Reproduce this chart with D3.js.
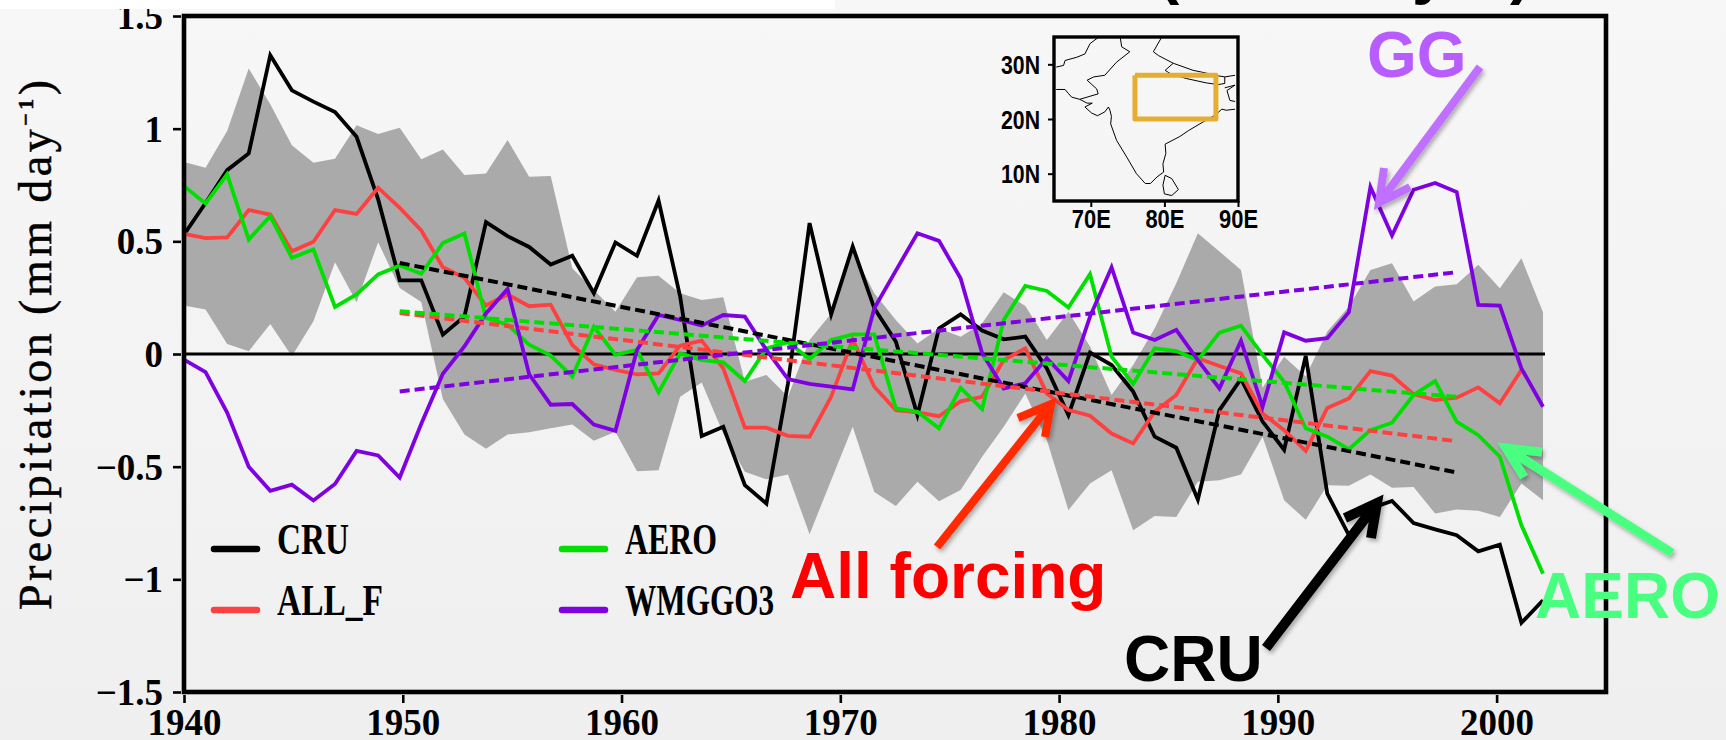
<!DOCTYPE html>
<html>
<head>
<meta charset="utf-8">
<script src="https://cdnjs.cloudflare.com/ajax/libs/d3/7.8.5/d3.min.js"></script>
<style>
  html, body { margin: 0; padding: 0; background: #fff; overflow: hidden; }
  svg { display: block; }
</style>
</head>
<body>
<svg id="chart" width="1726" height="740"></svg>
<script>
'use strict'

const tickYears = [1940, 1950, 1960, 1970, 1980, 1990, 2000]
const tickValues = [1.5, 1, 0.5, 0, -0.5, -1, -1.5]
const tickLabels = ['1.5', '1', '0.5', '0', '\u22120.5', '\u22121', '\u22121.5']

const cru = [0.53, 0.67, 0.816, 0.89, 1.326, 1.17, 1.12, 1.074, 0.964, 0.686, 0.327, 0.327, 0.086, 0.167, 0.585, 0.523,
  0.475, 0.397, 0.436, 0.27, 0.495, 0.436, 0.681, 0.255, -0.364, -0.323, -0.582, -0.664, -0.13, 0.581, 0.176, 0.477,
  0.203, 0.055, -0.271, 0.114, 0.176, 0.104, 0.065, 0.077, -0.064, -0.271, 0.006, -0.049, -0.167, -0.367, -0.416, -0.646,
  -0.249, -0.111, -0.3, -0.425, -0.008, -0.62, -0.804, -0.686, -0.652, -0.75, -0.778, -0.804, -0.876, -0.846, -1.193, -1.093]
const allF = [0.533, 0.514, 0.517, 0.639, 0.619, 0.456, 0.498, 0.639, 0.622, 0.738, 0.649, 0.548, 0.385, 0.338, 0.215, 0.264,
  0.212, 0.219, 0.04, -0.046, -0.071, -0.09, -0.086, 0.037, 0.059, -0.064, -0.327, -0.327, -0.363, -0.367, -0.19, 0.065,
  -0.145, -0.249, -0.259, -0.276, -0.21, -0.19, -0.027, 0.025, -0.175, -0.249, -0.274, -0.353, -0.397, -0.256, -0.182, -0.019,
  -0.053, -0.086, -0.264, -0.338, -0.43, -0.24, -0.197, -0.076, -0.096, -0.178, -0.204, -0.194, -0.148, -0.219, -0.071]
const aero = [0.745, 0.668, 0.797, 0.508, 0.612, 0.427, 0.464, 0.209, 0.264, 0.353, 0.393, 0.356, 0.493, 0.535, 0.16, 0.13,
  0.041, -0.007, -0.1, 0.121, -0.004, 0.018, -0.17, 0.003, -0.027, -0.037, -0.12, 0.025, 0.052, -0.022, 0.062, 0.087,
  0.087, -0.241, -0.256, -0.33, -0.15, -0.244, 0.151, 0.302, 0.28, 0.206, 0.354, -0.012, -0.133, 0.025, 0.013, -0.027,
  0.095, 0.126, -0.004, -0.123, -0.33, -0.367, -0.422, -0.338, -0.305, -0.182, -0.12, -0.3, -0.36, -0.456, -0.76, -0.975]
const wmggo3 = [-0.025, -0.08, -0.26, -0.5, -0.607, -0.58, -0.65, -0.577, -0.43, -0.45, -0.548, -0.31, -0.088, 0.034, 0.18, 0.289,
  -0.09, -0.225, -0.222, -0.313, -0.341, 0.018, 0.173, 0.151, 0.126, 0.173, 0.166, 0.018, -0.111, -0.133, -0.145, -0.157,
  0.203, 0.37, 0.536, 0.502, 0.336, 0.003, -0.153, -0.13, -0.019, -0.12, 0.166, 0.385, 0.095, 0.062, 0.107, -0.027,
  -0.153, 0.059, -0.234, 0.096, 0.059, 0.07, 0.186, 0.741, 0.526, 0.729, 0.759, 0.719, 0.218, 0.215, -0.064, -0.234]

const bandUpper = [0.852, 0.827, 0.99, 1.267, 1.108, 0.926, 0.849, 0.867, 1.015, 0.976, 1.004, 0.864, 0.908, 0.794, 0.801, 0.95,
  0.787, 0.79, 0.381, 0.284, 0.188, 0.341, 0.347, 0.27, 0.24, 0.252, -0.123, -0.093, -0.19, 0.062, 0.18, 0.455,
  0.27, 0.151, 0.047, 0.114, 0.077, 0.136, 0.274, 0.213, 0.062, 0.188, 0.033, -0.182, -0.049, 0.114, 0.314, 0.536,
  0.455, 0.373, -0.15, -0.012, -0.1, 0.1, 0.21, 0.373, 0.403, 0.233, 0.3, 0.31, 0.396, 0.292, 0.425, 0.185]
const bandLower = [0.215, 0.197, 0.044, 0.012, 0.133, -0.01, 0.145, 0.407, 0.23, 0.496, 0.293, 0.231, -0.2, -0.357, -0.42, -0.357,
  -0.347, -0.33, -0.313, -0.385, -0.345, -0.52, -0.516, -0.19, -0.126, -0.353, -0.523, -0.556, -0.535, -0.8, -0.56, -0.323,
  -0.612, -0.674, -0.567, -0.653, -0.604, -0.456, -0.323, -0.175, -0.382, -0.693, -0.575, -0.516, -0.782, -0.719, -0.723, -0.567,
  -0.56, -0.535, -0.367, -0.649, -0.736, -0.583, -0.585, -0.535, -0.594, -0.59, -0.708, -0.69, -0.696, -0.723, -0.575, -0.649]

// first and last step of each fitted trend
const trendSteps = [10, 59]
const cruTrend = [0.404, -0.526]
const allFTrend = [0.182, -0.387]
const aeroTrend = [0.19, -0.19]
const wmggo3Trend = [-0.166, 0.363]

// inset map: lon, lat
const insetLonTicks = [70, 80, 90]
const insetLatTicks = [30, 20, 10]
const indiaCoast = [[65.3, 25.4], [66.5, 25.4], [67, 24.6], [67.4, 24], [68.5, 23.6], [69.5, 22.9], [70.2, 22.9], [69.2, 22.2], [70.1, 21.1], [70.9, 20.6],
  [71.9, 21.3], [72.4, 22.2], [72.6, 21.6], [72.8, 20.5], [72.7, 19.1], [73.5, 16.1], [74.9, 13], [76.2, 10], [77.4, 8.2], [78.1, 8.2], [79, 9.4],
  [79.9, 10.3], [79.8, 11.8], [80.2, 13.7], [80.1, 15.4], [82.1, 16.8], [83.3, 17.9], [85.3, 19.5], [86.9, 20.7], [87.8, 21.8], [88.4, 21.6], [89.6, 21.8]]
const sriLanka = [[80.1, 9.7], [81, 9.1], [81.9, 7.1], [81, 6], [80, 6.3], [79.8, 7.9], [80.1, 9.7]]
const afghanBorder = [[65.3, 29.5], [66.3, 29.8], [66.5, 30.7], [68.1, 31.3], [69.2, 31.9], [69.9, 33.8], [71, 34.9]]
const pakBorder = [[68.5, 23.6], [71, 24.6], [70.8, 25.5], [69.5, 27.1], [70.4, 27.7], [71.9, 28], [73.5, 30.4], [75.3, 32.3], [74.2, 33.2], [74, 34.9]]
const tibetBorder = [[79.6, 34.9], [78.5, 32.3], [79.2, 31.6], [81.2, 30.2], [83.9, 28.9], [85, 28.6], [87.3, 27.9], [88.2, 27.7], [89.6, 28]]
const nepalBorder = [[81.2, 30.2], [80.1, 28.9], [80.8, 28.3], [83, 27.4], [85.7, 26.6], [87.3, 26.3], [88.2, 26.5], [88.2, 27.7]]
const bengalBorder = [[88.2, 25.7], [89.6, 26.2], [88.5, 25.2], [88.9, 23.4], [89.6, 23.2]]
const studyBox = [[76, 28], [87, 28], [87, 20], [76, 20], [76, 28]]

const seriesList = [
  { name: 'CRU', values: cru, trend: cruTrend, color: '#000000' },
  { name: 'ALL_F', values: allF, trend: allFTrend, color: '#ff4040' },
  { name: 'AERO', values: aero, trend: aeroTrend, color: '#00e000' },
  { name: 'WMGGO3', values: wmggo3, trend: wmggo3Trend, color: '#7f00e0' }
]

const svg = d3.select('#chart')
const serif = '"Liberation Serif", serif'
const sans = '"Liberation Sans", Arial, sans-serif'

const defs = svg.append('defs')
const bgGradient = defs.append('linearGradient').attr('id', 'bg').attr('x1', 0).attr('x2', 0).attr('y1', 0).attr('y2', 1)
bgGradient.append('stop').attr('offset', '0%').attr('stop-color', '#f7f7f7')
bgGradient.append('stop').attr('offset', '100%').attr('stop-color', '#efefef')
defs.append('filter').attr('id', 'shadow')
  .attr('x', '-20%').attr('y', '-20%').attr('width', '140%').attr('height', '140%')
  .append('feDropShadow')
  .attr('dx', 2).attr('dy', 3).attr('stdDeviation', 2).attr('flood-color', '#000').attr('flood-opacity', 0.3)

svg.append('rect').attr('width', 1726).attr('height', 740).attr('fill', 'url(#bg)')

const plot = { left: 184, right: 1606, top: 16, bottom: 692 }

// the curves step a little tighter than the year ticks in the original, so they get their own scale
const xStep = d3.scaleLinear().domain([0, 63]).range([plot.left, 1543])
const xYear = d3.scaleLinear().domain([1940, 2005]).range([plot.left, plot.right])
const y = d3.scaleLinear().domain([-1.5, 1.5]).range([plot.bottom, plot.top])

const band = d3.area()
  .x((d, i) => xStep(i))
  .y0(d => y(d[1]))
  .y1(d => y(d[0]))
svg.append('path')
  .datum(d3.zip(bandUpper, bandLower))
  .attr('d', band)
  .attr('fill', '#aaaaaa')

svg.append('line')
  .attr('x1', plot.left).attr('x2', xStep(63) + 2)
  .attr('y1', y(0)).attr('y2', y(0))
  .attr('stroke', '#000').attr('stroke-width', 3)

const line = d3.line().x((d, i) => xStep(i)).y(d => y(d))
svg.selectAll('path.series')
  .data(seriesList)
  .enter()
  .append('path')
  .attr('class', 'series')
  .attr('d', s => line(s.values))
  .attr('fill', 'none')
  .attr('stroke', s => s.color)
  .attr('stroke-width', 3.8)
  .attr('stroke-linejoin', 'miter')

svg.selectAll('line.trend')
  .data(seriesList)
  .enter()
  .append('line')
  .attr('class', 'trend')
  .attr('x1', xStep(trendSteps[0])).attr('x2', xStep(trendSteps[1]))
  .attr('y1', s => y(s.trend[0])).attr('y2', s => y(s.trend[1]))
  .attr('stroke', s => s.color)
  .attr('stroke-width', 4)
  .attr('stroke-dasharray', '10 5')

function styleAxis (g, fontFamily, fontSize, fontWeight, tickWidth) {
  g.select('.domain').remove()
  g.selectAll('.tick line').attr('stroke', '#000').attr('stroke-width', tickWidth)
  g.selectAll('.tick text')
    .attr('fill', '#000')
    .style('font-family', fontFamily)
    .style('font-size', fontSize + 'px')
    .style('font-weight', fontWeight)
}

const xAxisG = svg.append('g')
  .attr('transform', `translate(0,${plot.bottom + 3})`)
  .call(d3.axisBottom(xYear).tickValues(tickYears).tickFormat(d3.format('d')).tickSize(8))
styleAxis(xAxisG, serif, 37, 'bold', 2.6)
xAxisG.selectAll('.tick text').attr('y', 40).attr('dy', 0)

const yAxisG = svg.append('g')
  .attr('transform', `translate(${plot.left - 3},0)`)
  .call(d3.axisLeft(y).tickValues(tickValues).tickFormat((d, i) => tickLabels[i]).tickSize(8))
styleAxis(yAxisG, serif, 37, 'bold', 2.6)
yAxisG.selectAll('.tick text').attr('x', -18).attr('dy', 12.5)

svg.append('rect')
  .attr('x', plot.left).attr('y', plot.top)
  .attr('width', plot.right - plot.left).attr('height', plot.bottom - plot.top)
  .attr('fill', 'none').attr('stroke', '#000').attr('stroke-width', 4.6)

// y axis title
const yTitle = svg.append('text')
  .attr('transform', 'translate(51,610) rotate(-90)')
  .attr('textLength', 530)
  .attr('lengthAdjust', 'spacing')
  .style('font-family', serif)
  .style('font-size', '46px')
  .attr('fill', '#000')
  .attr('stroke', '#000')
  .attr('stroke-width', 0.5)
yTitle.append('tspan').text('Precipitation (mm day')
yTitle.append('tspan').attr('dy', -18).style('font-size', '22px').style('font-weight', 'bold').text('\u22121')
yTitle.append('tspan').attr('dy', 18).text(')')

// legend
const legendCells = [
  { x: 212, y: 549, labelLength: 72 },
  { x: 212, y: 610, labelLength: 106 },
  { x: 560, y: 549, labelLength: 92 },
  { x: 560, y: 610, labelLength: 149 }
]
const legend = svg.selectAll('g.legend-item')
  .data(seriesList)
  .enter()
  .append('g')
  .attr('class', 'legend-item')
  .attr('transform', (s, i) => `translate(${legendCells[i].x},${legendCells[i].y})`)
legend.append('line')
  .attr('x1', 2).attr('x2', 45)
  .attr('stroke', s => s.color)
  .attr('stroke-width', 6.5)
  .attr('stroke-linecap', 'round')
legend.append('text')
  .attr('x', 65).attr('y', 5)
  .attr('textLength', (s, i) => legendCells[i].labelLength)
  .attr('lengthAdjust', 'spacingAndGlyphs')
  .style('font-family', serif)
  .style('font-weight', 'bold')
  .style('font-size', '44px')
  .attr('fill', '#000')
  .text(s => s.name)

// inset map
const inset = { left: 1054, right: 1238, top: 37, bottom: 201 }
const lonScale = d3.scaleLinear().domain([65, 90]).range([inset.left, inset.right])
const latScale = d3.scaleLinear().domain([5, 35]).range([inset.bottom, inset.top])
const geoLine = d3.line().x(d => lonScale(d[0])).y(d => latScale(d[1]))

defs.append('clipPath').attr('id', 'inset-clip').append('rect')
  .attr('x', inset.left).attr('y', inset.top)
  .attr('width', inset.right - inset.left).attr('height', inset.bottom - inset.top)

svg.append('g')
  .attr('clip-path', 'url(#inset-clip)')
  .selectAll('path')
  .data([indiaCoast, sriLanka, afghanBorder, pakBorder, tibetBorder, nepalBorder, bengalBorder])
  .enter()
  .append('path')
  .attr('d', geoLine)
  .attr('fill', 'none')
  .attr('stroke', '#000')
  .attr('stroke-width', 1)

svg.append('path')
  .datum(studyBox)
  .attr('d', geoLine)
  .attr('fill', 'none')
  .attr('stroke', '#e5ae30')
  .attr('stroke-width', 5)
  .attr('stroke-linejoin', 'round')

function condenseInsetLabels (g) {
  g.selectAll('.tick text')
    .attr('textLength', 39)
    .attr('lengthAdjust', 'spacingAndGlyphs')
}

const insetX = svg.append('g')
  .attr('transform', `translate(0,${inset.bottom})`)
  .call(d3.axisBottom(lonScale).tickValues(insetLonTicks).tickFormat(d => d + 'E').tickSize(6))
styleAxis(insetX, sans, 25, 'bold', 2)
insetX.selectAll('.tick text').attr('y', 27).attr('dy', 0)
insetX.call(condenseInsetLabels)

const insetY = svg.append('g')
  .attr('transform', `translate(${inset.left},0)`)
  .call(d3.axisLeft(latScale).tickValues(insetLatTicks).tickFormat(d => d + 'N').tickSize(6))
styleAxis(insetY, sans, 25, 'bold', 2)
insetY.selectAll('.tick text').attr('x', -14).attr('dy', 9)
insetY.call(condenseInsetLabels)

svg.append('rect')
  .attr('x', inset.left).attr('y', inset.top)
  .attr('width', inset.right - inset.left).attr('height', inset.bottom - inset.top)
  .attr('fill', 'none').attr('stroke', '#000').attr('stroke-width', 3.4)

// hand drawn call-outs pasted over the figure
const callouts = [
  { label: 'All forcing', color: '#ff0000', arrow: '#ff2a00', width: 8, textX: 790, textY: 598, tail: [937, 547], tip: [1051, 404], barbs: [[1018, 418], [1045, 437]] },
  { label: 'CRU', color: '#000000', arrow: '#000000', width: 10, textX: 1124, textY: 681, tail: [1266, 648], tip: [1377, 503], barbs: [[1345, 518], [1371, 538]] },
  { label: 'AERO', color: '#48ff80', arrow: '#48ff80', width: 9, textX: 1535, textY: 618, tail: [1672, 553], tip: [1506, 448], barbs: [[1542, 452], [1524, 477]] },
  { label: 'GG', color: '#b85cff', arrow: '#c070ff', width: 8, textX: 1367, textY: 77, tail: [1480, 67], tip: [1379, 203], barbs: [[1384, 168], [1410, 187]] }
]
const callout = svg.selectAll('g.callout')
  .data(callouts)
  .enter()
  .append('g')
  .attr('class', 'callout')
callout.append('path')
  .attr('d', c => `M${c.tail}L${c.tip}M${c.barbs[0]}L${c.tip}L${c.barbs[1]}`)
  .attr('fill', 'none')
  .attr('stroke', c => c.arrow)
  .attr('stroke-width', c => c.width)
  .attr('stroke-linejoin', 'miter')
  .attr('filter', 'url(#shadow)')
callout.append('text')
  .attr('x', c => c.textX).attr('y', c => c.textY)
  .attr('fill', c => c.color)
  .style('font-family', sans)
  .style('font-weight', 'bold')
  .style('font-size', '64px')
  .text(c => c.label)

// bottom of a title that runs off the top of the page
svg.selectAll('text.title-cut')
  .data([{ t: '(', x: 1158 }, { t: 'y', x: 1412 }, { t: ')', x: 1510 }])
  .enter()
  .append('text')
  .attr('class', 'title-cut')
  .attr('x', d => d.x).attr('y', -8)
  .attr('fill', '#000')
  .style('font-family', sans)
  .style('font-weight', 'bold')
  .style('font-size', '64px')
  .text(d => d.t)

svg.append('rect').attr('width', 835).attr('height', 9).attr('fill', '#fff')
</script>
</body>
</html>
